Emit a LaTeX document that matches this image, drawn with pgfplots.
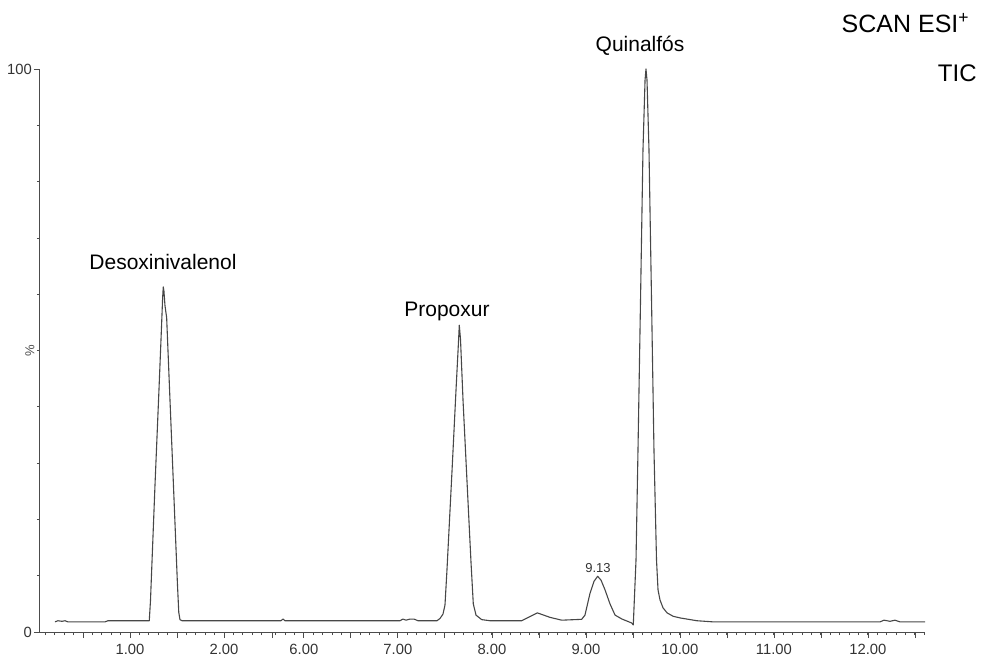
\documentclass[border=0pt]{standalone}
\usepackage{fontspec}
\setmainfont{Liberation Sans}
\usepackage{pgfplots}
\pgfplotsset{compat=1.18}
\begin{document}
\begin{tikzpicture}
\useasboundingbox (-20pt,-11.5pt) rectangle (471pt,316pt);
\begin{axis}[
  scale only axis, width=442.5pt, height=281.5pt,
  xmin=0.043, xmax=9.457, ymin=0, ymax=100,
  axis lines*=left,
  axis line style={black!70, line width=0.5pt},
  clip=false,
  xtick={1,2,2.85,3.85,4.85,5.85,6.85,7.85,8.85},
  xticklabels={1.00,2.00,6.00,7.00,8.00,9.00,10.00,11.00,12.00},
  minor xtick={0.1,0.2,...,2.45,2.55,2.65,...,9.46},
  extra x ticks={0.5,1.5,2.51,3.35,4.35,5.35,6.35,7.35,8.35,9.35},
  extra x tick labels={},
  ytick={0,100}, minor ytick={10,20,...,90},
  tick align=outside,
  major tick length=3pt, minor tick length=1.6pt,
  tick style={black!70, line width=0.4pt},
  ticklabel style={font=\fontsize{7.4}{8}\selectfont, text=black!80},
  xticklabel style={yshift=0.5pt},
  yticklabel style={xshift=2.5pt},
  /pgf/number format/assume math mode=true,
]
\addplot[color=black!72, line width=0.55pt, line join=round] coordinates {
(0.202,1.8) (0.234,2.0) (0.277,1.9) (0.309,2.0) (0.340,1.8) (0.734,1.8) (0.766,2.0)
(1.2053,2.0) (1.2181,5.5) (1.2660,26) (1.3085,43) (1.3351,54) (1.3479,59.5) (1.3543,61.3)
(1.3617,60.5) (1.3723,58) (1.3904,55.8) (1.4255,41.3) (1.4681,23.8) (1.5053,8.4)
(1.5191,3.5) (1.5319,2.2) (1.5532,2.0)
(2.606,2.0) (2.628,2.3) (2.649,2.0)
(3.872,2.0) (3.904,2.3) (3.936,2.1) (3.979,2.3) (4.021,2.3) (4.064,2.0)
(4.266,2.0) (4.298,2.4) (4.330,3.2) (4.351,4.8) (4.372,11) (4.426,28.7) (4.468,42.9)
(4.493,51) (4.503,54.5) (4.516,52) (4.543,41.1) (4.596,23.1) (4.628,12.3) (4.652,5.0)
(4.681,3.0) (4.741,2.2) (4.830,2.0)
(5.167,2.0) (5.333,3.4) (5.468,2.6) (5.593,2.1) (5.805,2.25) (5.840,3.0) (5.894,6.9)
(5.936,9.0) (5.975,9.9) (6.011,9.2) (6.053,7.5) (6.106,5.0) (6.160,3.0) (6.234,2.3)
(6.337,1.6) (6.354,1.25)
(6.383,12.8) (6.404,32.3) (6.431,59) (6.457,85.6) (6.479,98) (6.489,100) (6.500,98)
(6.521,85.6) (6.548,59) (6.574,32.3) (6.601,12.8) (6.617,7.5) (6.638,5.7) (6.670,4.3)
(6.713,3.4) (6.777,2.8) (6.851,2.5) (7.032,2.0) (7.202,1.8)
(8.979,1.8) (9.021,2.1) (9.085,1.9) (9.138,2.1) (9.191,1.8) (9.457,1.8)
};
\node[font=\fontsize{10.5}{12}\selectfont] at (axis cs:1.351,65.7) {Desoxinivalenol};
\node[font=\fontsize{10.5}{12}\selectfont] at (axis cs:4.372,57.0) {Propoxur};
\node[font=\fontsize{10.5}{12}\selectfont] at (axis cs:6.426,104.2) {Quinalfós};
\node[font=\fontsize{6.5}{8}\selectfont, text=black!80] at (axis cs:5.979,11.4) {9.13};
\node[font=\fontsize{12.5}{14}\selectfont, anchor=east, inner sep=0pt] at (axis cs:9.936,108.2) {SCAN ESI\textsuperscript{+}};
\node[font=\fontsize{12}{14}\selectfont, anchor=east, inner sep=0pt] at (axis cs:10.01,99.3) {TIC};
\node[font=\fontsize{6.5}{8}\selectfont, text=black!70, rotate=90] at (axis description cs:-0.0113,0.5) {\%};
\end{axis}
\end{tikzpicture}
\end{document}
